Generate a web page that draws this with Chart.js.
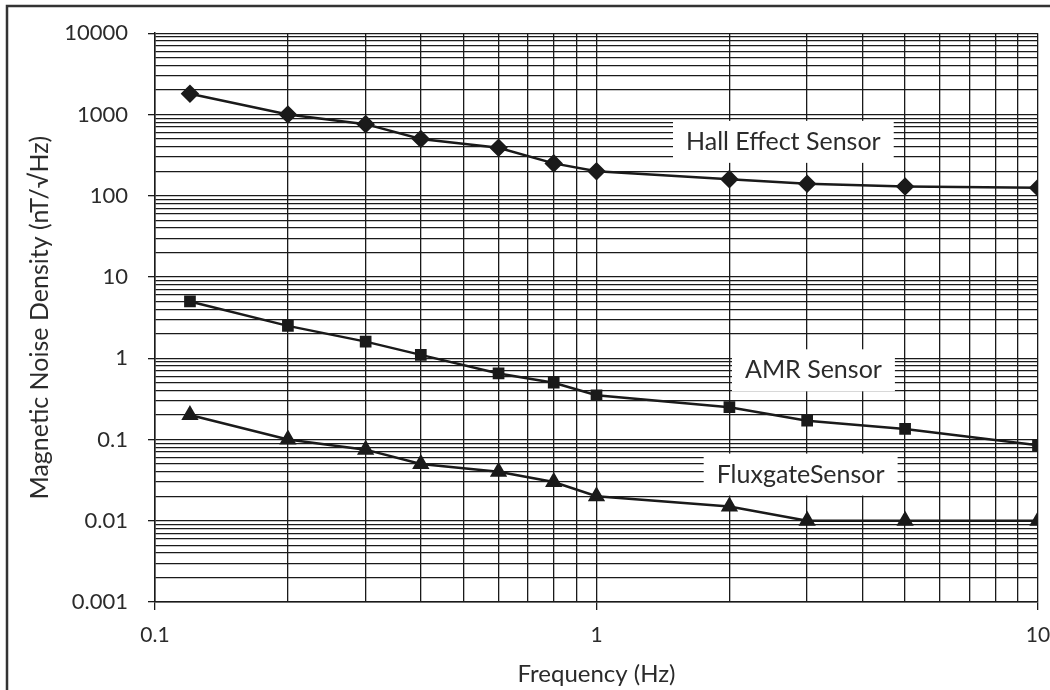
<!DOCTYPE html>
<html lang="en">
<head>
<meta charset="UTF-8" />
<title>Magnetic Noise Density</title>
<script src="https://cdn.jsdelivr.net/npm/chart.js"></script>
<style>
  html, body { margin: 0; padding: 0; background: #fff; }
  #caixa { width: 1050px; height: 690px; position: relative; }
</style>
</head>
<body>
<div id="caixa"><canvas id="grafico"></canvas></div>
<script>
  // dados
  const frequencias = [0.12, 0.2, 0.3, 0.4, 0.6, 0.8, 1, 2, 3, 5, 10];
  const hall = [1800, 1000, 760, 500, 390, 250, 200, 160, 140, 130, 125];
  const amr = [5, 2.5, 1.6, 1.1, 0.65, 0.5, 0.35, 0.25, 0.17, 0.135, 0.085];
  const fluxgate = [0.2, 0.1, 0.075, 0.05, 0.04, 0.03, 0.02, 0.015, 0.01, 0.01, 0.01];

  const ticksX = [0.1, 1, 10];
  const rotulosX = ['0.1', '1', '10'];
  const ticksY = [0.001, 0.01, 0.1, 1, 10, 100, 1000, 10000];
  const rotulosY = ['0.001', '0.01', '0.1', '1', '10', '100', '1000', '10000'];

  // nomes das curvas (posicao em coordenadas dos dados)
  const nomes = ['Hall Effect Sensor', 'AMR Sensor', 'FluxgateSensor'];
  const nomesX = [2.65, 3.1, 2.9];
  const nomesY = [460, 0.71, 0.037];

  const FONTE = 'Lato, "Open Sans", sans-serif';
  const COR = '#1a1a1a';

  // linhas de grade: 1..9 em cada decada
  function grade(decadas) {
    const lista = [];
    for (let i = 0; i < decadas.length; i++) {
      lista.push(decadas[i]);
      if (i < decadas.length - 1) {
        for (let m = 2; m <= 9; m++) lista.push(decadas[i] * m);
      }
    }
    return lista;
  }

  function pontos(valores) {
    return frequencias.map((f, i) => ({ x: f, y: valores[i] }));
  }

  const caixasNomes = {
    id: 'caixasNomes',
    beforeDatasetsDraw(chart) {
      const { ctx, scales } = chart;
      ctx.save();
      ctx.font = '25px ' + FONTE;
      ctx.textAlign = 'center';
      ctx.textBaseline = 'middle';
      nomes.forEach((nome, i) => {
        const cx = scales.x.getPixelForValue(nomesX[i]);
        const cy = scales.y.getPixelForValue(nomesY[i]);
        const w = ctx.measureText(nome).width + 26;
        const h = 42;
        ctx.fillStyle = '#fff';
        ctx.fillRect(cx - w / 2, cy - h / 2, w, h);
        ctx.fillStyle = '#2b2b2b';
        ctx.fillText(nome, cx, cy);
      });
      ctx.restore();
    }
  };

  const moldura = {
    id: 'moldura',
    afterDraw(chart) {
      const ctx = chart.ctx;
      ctx.save();
      ctx.strokeStyle = '#333';
      ctx.lineWidth = 2.5;
      ctx.beginPath();
      ctx.moveTo(7, 700);
      ctx.lineTo(7, 6);
      ctx.lineTo(1060, 6);
      ctx.stroke();
      ctx.restore();
    }
  };

  const estiloSerie = {
    borderColor: COR,
    backgroundColor: COR,
    borderWidth: 2.5,
    showLine: true,
    pointBorderColor: COR,
    pointBackgroundColor: COR,
  };

  new Chart(document.getElementById('grafico'), {
    type: 'scatter',
    data: {
      datasets: [
        { ...estiloSerie, label: 'Hall Effect Sensor', data: pontos(hall), pointStyle: 'rectRot', pointRadius: 7.5 },
        { ...estiloSerie, label: 'AMR Sensor', data: pontos(amr), pointStyle: 'rect', pointRadius: 6.5 },
        { ...estiloSerie, label: 'FluxgateSensor', data: pontos(fluxgate), pointStyle: 'triangle', pointRadius: 7.5 },
      ],
    },
    options: {
      responsive: true,
      maintainAspectRatio: false,
      animation: false,
      layout: { padding: { left: 8, top: 33, right: 12, bottom: 0 } },
      plugins: {
        legend: { display: false },
        tooltip: { enabled: false },
      },
      scales: {
        x: {
          type: 'logarithmic',
          min: 0.1,
          max: 10,
          afterBuildTicks: (scale) => { scale.ticks = grade(ticksX).map(v => ({ value: v })); },
          afterFit: (scale) => { scale.height = 88; scale.paddingLeft = 0; scale.paddingRight = 0; },
          ticks: {
            autoSkip: false,
            maxRotation: 0,
            padding: 13,
            color: '#2b2b2b',
            font: { family: FONTE, size: 21 },
            callback: (v) => { const i = ticksX.indexOf(v); return i >= 0 ? rotulosX[i] : ''; },
          },
          grid: {
            color: COR,
            lineWidth: 1.3,
            tickLength: 8,
            tickColor: (c) => (c.tick && ticksX.includes(c.tick.value)) ? COR : 'rgba(0,0,0,0)',
          },
          border: { color: COR, width: 1.5 },
          title: {
            display: true,
            text: 'Frequency (Hz)',
            color: '#2b2b2b',
            font: { family: FONTE, size: 24 },
            padding: { top: 0, bottom: 1 },
          },
        },
        y: {
          type: 'logarithmic',
          min: 0.001,
          max: 10000,
          afterBuildTicks: (scale) => { scale.ticks = grade(ticksY).map(v => ({ value: v })); },
          afterFit: (scale) => { scale.width = 147; },
          ticks: {
            autoSkip: false,
            padding: 20,
            color: '#2b2b2b',
            font: { family: FONTE, size: 22 },
            callback: (v) => { const i = ticksY.indexOf(v); return i >= 0 ? rotulosY[i] : ''; },
          },
          grid: {
            color: COR,
            lineWidth: 1.3,
            tickLength: 7,
            tickColor: (c) => (c.tick && ticksY.includes(c.tick.value)) ? COR : 'rgba(0,0,0,0)',
          },
          border: { color: COR, width: 1.5 },
          title: {
            display: true,
            text: 'Magnetic Noise Density (nT/\u221AHz)',
            color: '#2b2b2b',
            font: { family: FONTE, size: 25 },
            padding: { top: 17, bottom: 0 },
          },
        },
      },
    },
    plugins: [caixasNomes, moldura],
  });
</script>
</body>
</html>
